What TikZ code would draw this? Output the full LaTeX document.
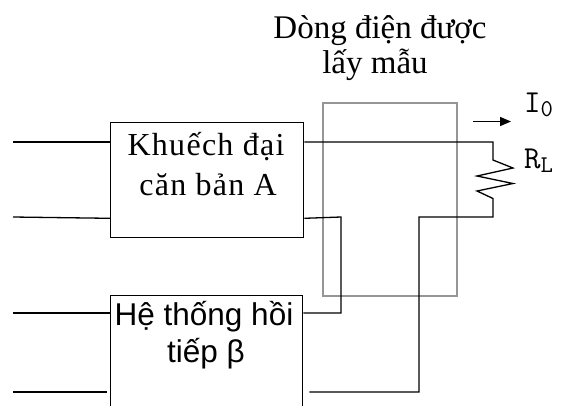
\documentclass[tikz,border=0pt]{standalone}
\usepackage{fontspec}
\setmainfont{Liberation Serif}
\newfontfamily\boxafont[LetterSpace=4]{Liberation Serif}
\newfontfamily\boxbfont{Liberation Sans}
\newcommand\mysubfont{\fontsize{24}{25}\selectfont}
\usetikzlibrary{arrows.meta}
\definecolor{samplegray}{RGB}{150,150,150}
\begin{document}
\begin{tikzpicture}[x=1pt,y=-1pt,
  wire/.style={draw=black,line width=1.3pt,line join=miter},
  blockbox/.style={draw=black,line width=1.3pt,rectangle,inner sep=0pt,anchor=north west},
  sampbox/.style={draw=samplegray,line width=1.2pt},
  titletext/.style={font=\fontsize{33}{35}\selectfont,anchor=base,inner sep=0pt},
  atext/.style={font=\boxafont\fontsize{32}{40}\selectfont,anchor=base,inner sep=0pt},
  btext/.style={font=\boxbfont\fontsize{31.5}{37}\selectfont,anchor=base,inner sep=0pt},
  labtext/.style={font=\ttfamily\fontsize{32}{33}\selectfont,anchor=base west,inner sep=0pt}]
\useasboundingbox (0,0) rectangle (564,405);
% sampling box
\draw[sampbox] (323,103) rectangle (457,296);
% title
\node[titletext] (t1) at (380,38) {Dòng điện được};
\node[titletext] (t2) at (375,73) {lấy mẫu};
% blocks
\node[blockbox,minimum width=193pt,minimum height=115pt] (A) at (110,122) {};
\node[blockbox,minimum width=192pt,minimum height=130pt] (B) at (110,295) {};
\node[atext] (a1) at (206,155) {Khuếch đại};
\node[atext] (a2) at (208,195) {căn bản A};
\node[btext] (b1) at (204,325) {Hệ thống hồi};
\node[btext] (b2) at (206,362) {tiếp β};
% input coordinates
\coordinate (in1) at (13,142);
\coordinate (in2) at (13,217);
\coordinate (in3) at (13,313);
\coordinate (in4) at (13,392);
\draw[wire] (in1) -- ([yshift=-20pt]A.north west);
\draw[wire] (in2) -- ([yshift=20pt]A.south west);
\draw[wire] (in3) -- ([yshift=-18pt]B.north west);
\draw[wire] (in4) -- ([xshift=-3pt,yshift=-97pt]B.north west);
% output loop with load resistor
\draw[wire] ([yshift=-20pt]A.north east) -- (493,142) -- (493,160) -- (513,168) -- (477,176) -- (513,183.5) -- (477,191) -- (493,198.5) -- (493,217) -- (419,217) -- (419,392) -- ([xshift=6pt,yshift=-97pt]B.north east);
% feedback sense
\draw[wire] ([yshift=20pt]A.south east) -- (341,217) -- (341,313) -- ([yshift=-18pt]B.north east);
% current arrow
\coordinate (arr1) at (473,121.5);
\coordinate (arr2) at (511,121.5);
\draw[line width=1.3pt,-{Triangle[length=11pt,width=9pt]}] (arr1) -- (arr2);
\node[labtext] (io) at (524,112.5) {I\raisebox{-4pt}{\mysubfont 0}};
\node[labtext] (rl) at (524,168) {R\raisebox{-4pt}{\mysubfont L}};
\end{tikzpicture}
\end{document}
